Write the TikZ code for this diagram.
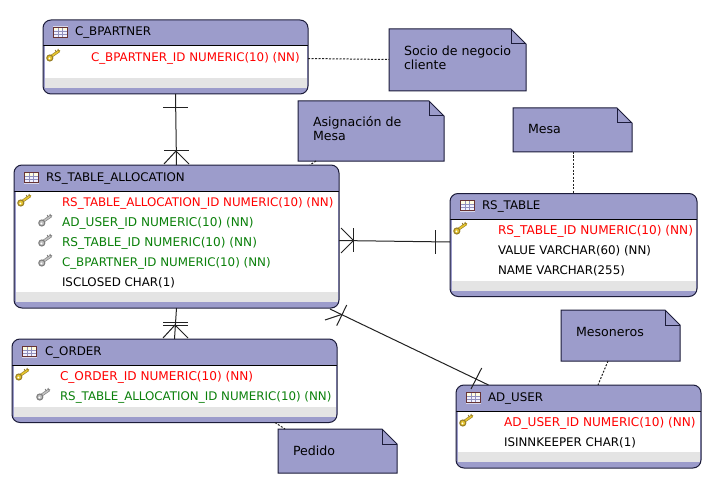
\documentclass[tikz,border=0pt]{standalone}
\usepackage{fontspec}
\setmainfont{DejaVu Sans}
\definecolor{hdr}{HTML}{9C9CCB}
\definecolor{band}{HTML}{E4E4E4}
\definecolor{edge}{HTML}{1C1C3A}
\definecolor{linkc}{HTML}{222222}
\definecolor{pkred}{HTML}{FF0000}
\definecolor{fkgreen}{HTML}{0A800A}
\definecolor{goldk}{HTML}{E6C52E}
\definecolor{goldd}{HTML}{9A8028}
\definecolor{greyk}{HTML}{C0C0C0}
\definecolor{greyd}{HTML}{7E7E7E}
\tikzset{
  x=1pt,y=-1pt,
  txt/.style={anchor=base west,inner sep=0pt,outer sep=0pt,yshift=-1pt,font=\fontsize{11.85}{14}\selectfont},
  pk/.style={txt,text=pkred},
  fk/.style={txt,text=fkgreen},
  plain/.style={txt,text=black},
  wide/.style={font=\fontsize{12.1}{14}\selectfont},
  notetxt/.style={txt,text=black,font=\fontsize{12.6}{14}\selectfont},
  erbox/.style={draw=edge,line width=1pt,rounded corners=8pt,fill=white,anchor=north west,inner sep=0pt,outer sep=0pt,
    path picture={
      \begin{scope}[sharp corners]
      \fill[hdr] (path picture bounding box.north west) rectangle ([yshift=-26pt]path picture bounding box.north east);
      \fill[hdr] ([yshift=6pt]path picture bounding box.south west) rectangle (path picture bounding box.south east);
      \fill[band] ([yshift=16pt]path picture bounding box.south west) rectangle ([yshift=6pt]path picture bounding box.south east);
      \draw[hdr,line width=3pt] (path picture bounding box.north west) -- (path picture bounding box.south west);
      \draw[hdr,line width=3pt] (path picture bounding box.north east) -- (path picture bounding box.south east);
      \draw[black,line width=1pt] ([yshift=-26pt]path picture bounding box.north west) -- ([yshift=-26pt]path picture bounding box.north east);
      \end{scope}
    }},
  noteanchor/.style={anchor=north west,inner sep=0pt,outer sep=0pt},
  noteshape/.style={draw=edge,line width=1pt,fill=hdr,line join=miter},
  conn/.style={draw=linkc,line width=1pt},
  dashc/.style={draw=linkc,line width=1pt,dash pattern=on 2pt off 1.5pt}
}
\newcommand{\ertable}[8]{% name x1 y1 x2 y2 titlex title
  \pgfmathsetmacro{\ww}{#4-#2}\pgfmathsetmacro{\hh}{#5-#3}
  \node[erbox,minimum width=\ww pt,minimum height=\hh pt] (#1) at (#2,#3) {};
  \tblicon{#2+10}{#3+7}
  \node[plain] (#1-title) at (#6,#3+15) {#7};
}
\newcommand{\tblicon}[2]{%
  \begin{scope}[shift={(#1,#2)}]
    \fill[white,opacity=.6] (-.5,-.5) rectangle (14.5,11.5);
    \fill[yellow!12] (0,0) rectangle (14,3.5);
    \fill[blue!5] (0,3.5) rectangle (14,10);
    \draw[blue!25!gray!70,line width=.4pt] (0,4) -- (14,4) (0,7) -- (14,7) (4.7,0) -- (4.7,10) (9.3,0) -- (9.3,10);
    \draw[red!25!black!80,line width=.7pt] (0,0) rectangle (14,10);
  \end{scope}
}
\newcommand{\keyicon}[4]{% x y fill dark
  \begin{scope}[shift={(#1,#2)}]
    \draw[#4,line width=2.8pt,line cap=round] (5,7.5) -- (13,2);
    \draw[#3,line width=1.6pt,line cap=round] (5,7.5) -- (13,2);
    \draw[#4,line width=1pt] (10.3,3) -- (9.3,1) (12.5,2.2) -- (12,0);
    \draw[#4,line width=1.1pt,fill=#3] (3.8,9) circle (3);
    \fill[white] (3.4,9.4) circle (1);
  \end{scope}
}
\newcommand{\goldkey}[2]{\keyicon{#1}{#2}{goldk}{goldd}}
\newcommand{\greykey}[2]{\keyicon{#1}{#2}{greyk}{greyd}}
\newcommand{\notebox}[5]{% name x1 y1 x2 y2
  \pgfmathsetmacro{\ww}{#4-#2}\pgfmathsetmacro{\hh}{#5-#3}
  \node[noteanchor,minimum width=\ww pt,minimum height=\hh pt] (#1) at (#2,#3) {};
  \draw[noteshape] (#1.north west) -- ([xshift=-15pt]#1.north east) -- ([yshift=-15pt]#1.north east) -- (#1.south east) -- (#1.south west) -- cycle;
  \draw[edge,line width=1pt] ([xshift=-15pt]#1.north east) -- ([xshift=-15pt,yshift=-15pt]#1.north east) -- ([yshift=-15pt]#1.north east);
}
\begin{document}
\begin{tikzpicture}
\useasboundingbox (0,0) rectangle (712,484);
\fill[white] (0,0) rectangle (712,484);

% notes
\notebox{nsocio}{389}{29}{526}{91}
\node[notetxt] (nsocioa) at (404,55) {Socio de negocio};
\node[notetxt] (nsociob) at (404,69) {cliente};
\notebox{nasig}{298}{101}{444}{161}
\node[notetxt] (nasiga) at (313,126) {Asignación de};
\node[notetxt] (nasigb) at (313,140) {Mesa};
\notebox{nmesa}{513}{108}{632}{152}
\node[notetxt] (nmesat) at (528,133) {Mesa};
\notebox{nmeso}{561}{310}{680}{361}
\node[notetxt] (nmesot) at (576,335) {Mesoneros};
\notebox{npedido}{278}{429}{397}{473}
\node[notetxt] (npedidot) at (293,454) {Pedido};

% tables
\ertable{bp}{43}{20}{308}{94}{75}{C\_BPARTNER}{}
\goldkey{46}{49}
\node[pk] (bp1) at (91,61) {C\_BPARTNER\_ID NUMERIC(10) (NN)};

\ertable{alloc}{14}{165}{339}{308}{46}{RS\_TABLE\_ALLOCATION}{}
\goldkey{17}{194}
\greykey{38}{214}
\greykey{38}{234}
\greykey{38}{254}
\node[pk] (a1) at (62,205.5) {RS\_TABLE\_ALLOCATION\_ID NUMERIC(10) (NN)};
\node[fk,wide] (a2) at (62,225.5) {AD\_USER\_ID NUMERIC(10) (NN)};
\node[fk,wide] (a3) at (62,245.5) {RS\_TABLE\_ID NUMERIC(10) (NN)};
\node[fk] (a4) at (62,265.5) {C\_BPARTNER\_ID NUMERIC(10) (NN)};
\node[plain] (a5) at (62,285.5) {ISCLOSED CHAR(1)};

\ertable{ord}{12}{339}{337}{422.5}{45}{C\_ORDER}{}
\goldkey{15}{368}
\greykey{36}{388}
\node[pk,wide] (o1) at (60,379.5) {C\_ORDER\_ID NUMERIC(10) (NN)};
\node[fk] (o2) at (60,399.5) {RS\_TABLE\_ALLOCATION\_ID NUMERIC(10) (NN)};

\ertable{rst}{450}{193.5}{697}{296.5}{482}{RS\_TABLE}{}
\goldkey{453}{222}
\node[pk,wide] (r1) at (498,233.5) {RS\_TABLE\_ID NUMERIC(10) (NN)};
\node[plain] (r2) at (498,253.5) {VALUE VARCHAR(60) (NN)};
\node[plain] (r3) at (498,273.5) {NAME VARCHAR(255)};

\ertable{adu}{456}{385}{701}{468}{488}{AD\_USER}{}
\goldkey{459}{414}
\node[pk,wide] (u1) at (504,425.5) {AD\_USER\_ID NUMERIC(10) (NN)};
\node[plain] (u2) at (504,445.5) {ISINNKEEPER CHAR(1)};

% relationship lines
\draw[conn] (bp.south) -- (alloc.north);
\draw[conn] (163,108) -- (188,108);
\draw[conn] (164,151) -- (189,151);
\draw[conn] (164,164) -- (176,151) -- (189,164);

\draw[conn] (alloc.south) -- (ord.north);
\draw[conn] (163,322) -- (188,322);
\draw[conn] (163,325) -- (188,325);
\draw[conn] (163,338) -- (175,325) -- (188,338);

\draw[conn] ([yshift=-4pt]alloc.east) -- ([yshift=3pt]rst.west);
\draw[conn] (353.5,228) -- (353.5,252);
\draw[conn] (341,228) -- (353.5,240.5) -- (341,253);
\draw[conn] (435.5,230) -- (435.5,254);

\coordinate (allocfk) at (330,309);
\coordinate (adufk) at (488.5,385);
\draw[conn] (allocfk) -- (adufk);
\draw[conn] (346.7,305) -- (336.7,325.7);
\draw[conn] (325,320) -- (341.5,314.5);
\draw[conn] (481.7,368) -- (471,389);

% note links
\draw[dashc] (bp.east |- 0,58.5) -- (nsocio.west |- 0,59.5);
\draw[dashc] (nasig.south west -| 316,0) -- (310,165);
\draw[dashc] (nmesa.south -| 573,0) -- (rst.north -| 573,0);
\draw[dashc] (nmeso.south -| 608,0) -- (adu.north -| 598,0);
\draw[dashc] (ord.south -| 275,0) -- (npedido.north -| 285,0);
\end{tikzpicture}
\end{document}
